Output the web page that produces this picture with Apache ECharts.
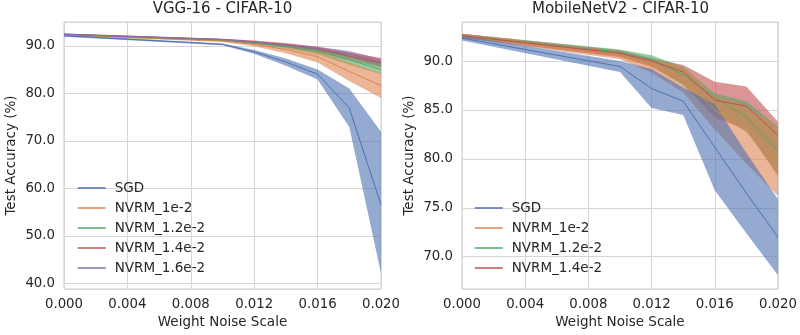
<!DOCTYPE html>
<html>
<head>
<meta charset="utf-8">
<script src="https://cdn.jsdelivr.net/npm/echarts@6/dist/echarts.min.js"></script>
<style>
  html, body { margin: 0; padding: 0; background: #ffffff; }
  #chart { width: 800px; height: 335px; }
</style>
</head>
<body>
<div id="chart"></div>
<script>
// Weight noise levels used for evaluation (shared by both panels)
const noiseScale = [0, 0.010, 0.012, 0.014, 0.016, 0.018, 0.020];

// ---- VGG-16 on CIFAR-10: mean test accuracy and band (lower / upper) ----
const vggSgdMean   = [92.1, 90.3, 88.7, 86.6, 84.0, 76.9, 56.5];
const vggSgdLow    = [91.9, 90.1, 88.3, 85.8, 82.9, 72.9, 42.1];
const vggSgdHigh   = [92.3, 90.5, 89.1, 87.3, 85.0, 81.0, 71.9];

const vggN10Mean   = [92.3, 91.0, 90.3, 89.2, 87.7, 84.6, 81.6];
const vggN10Low    = [92.1, 90.8, 89.9, 88.4, 86.5, 82.6, 79.0];
const vggN10High   = [92.5, 91.2, 90.6, 89.8, 88.8, 86.5, 84.2];

const vggN12Mean   = [92.4, 91.2, 90.6, 89.8, 88.8, 87.0, 85.0];
const vggN12Low    = [92.2, 91.0, 90.3, 89.4, 88.2, 86.0, 84.0];
const vggN12High   = [92.6, 91.4, 90.9, 90.2, 89.4, 88.0, 86.2];

const vggN14Mean   = [92.4, 91.3, 90.8, 90.2, 89.3, 87.8, 86.4];
const vggN14Low    = [92.2, 91.1, 90.5, 89.8, 88.8, 87.0, 85.5];
const vggN14High   = [92.6, 91.5, 91.1, 90.6, 89.8, 88.6, 87.4];

const vggN16Mean   = [92.4, 91.3, 90.8, 90.1, 89.4, 88.3, 86.5];
const vggN16Low    = [92.2, 91.1, 90.5, 89.7, 89.0, 87.6, 85.8];
const vggN16High   = [92.6, 91.5, 91.0, 90.4, 89.8, 88.9, 87.2];

// ---- MobileNetV2 on CIFAR-10 ----
const mbSgdMean    = [92.35, 89.45, 87.2, 85.9, 81.2, 76.5, 72.0];
const mbSgdLow     = [92.1, 88.9, 85.2, 84.5, 76.8, 72.4, 68.1];
const mbSgdHigh    = [92.6, 90.0, 89.2, 87.3, 85.6, 80.6, 75.9];

const mbN10Mean    = [92.6, 90.6, 89.6, 88.2, 85.0, 82.8, 79.6];
const mbN10Low     = [92.4, 90.2, 88.8, 86.8, 83.0, 79.5, 76.2];
const mbN10High    = [92.8, 91.0, 90.2, 89.4, 86.4, 85.4, 83.2];

const mbN12Mean    = [92.6, 90.9, 90.2, 88.6, 86.3, 84.3, 80.8];
const mbN12Low     = [92.4, 90.5, 89.6, 87.5, 84.6, 82.8, 78.5];
const mbN12High    = [92.8, 91.2, 90.6, 89.4, 86.7, 85.9, 83.3];

const mbN14Mean    = [92.6, 90.8, 90.0, 88.9, 86.0, 85.4, 82.4];
const mbN14Low     = [92.4, 90.4, 89.4, 87.6, 84.2, 83.0, 78.2];
const mbN14High    = [92.8, 91.1, 90.3, 89.6, 87.9, 87.4, 83.8];

// Labels
const panelTitles   = ['VGG-16 - CIFAR-10', 'MobileNetV2 - CIFAR-10'];
const xAxisTitle    = 'Weight Noise Scale';
const yAxisTitle    = 'Test Accuracy (%)';
const vggNames      = ['SGD', 'NVRM_1e-2', 'NVRM_1.2e-2', 'NVRM_1.4e-2', 'NVRM_1.6e-2'];
const mbNames       = ['SGD', 'NVRM_1e-2', 'NVRM_1.2e-2', 'NVRM_1.4e-2'];

// Style
const FONT = 'DejaVu Sans';
const TEXT = '#262626';
const GRID_LINE = '#d6d6d6';
const PALETTE = ['#4C72B0', '#DD8452', '#55A868', '#C44E52', '#8172B3'];
const BAND_OPACITY = 0.6;

const pairs = (ys) => noiseScale.map((x, i) => [x, ys[i]]);

// Shaded band between lower and upper curves, drawn as one polygon in axis coordinates
function bandSeries(gridIdx, key, color, lo, hi) {
  return {
    name: key + ' band', type: 'custom', xAxisIndex: gridIdx, yAxisIndex: gridIdx,
    data: noiseScale.map((x, i) => [x, lo[i], hi[i]]),
    encode: { x: 0, y: [1, 2] },
    silent: true, z: 1,
    renderItem: (params, api) => {
      if (params.dataIndex !== 0) return null;
      const pts = [];
      for (let i = 0; i < noiseScale.length; i++) pts.push(api.coord([noiseScale[i], hi[i]]));
      for (let i = noiseScale.length - 1; i >= 0; i--) pts.push(api.coord([noiseScale[i], lo[i]]));
      return {
        type: 'polygon',
        shape: { points: pts },
        style: { fill: color, opacity: BAND_OPACITY, stroke: null }
      };
    }
  };
}
function meanSeries(gridIdx, name, color, mean) {
  return {
    name: name, type: 'line', xAxisIndex: gridIdx, yAxisIndex: gridIdx,
    data: pairs(mean), symbol: 'none', silent: true,
    lineStyle: { color: color, width: 1 }, itemStyle: { color: color }, z: 3
  };
}

const vggModels = [
  [vggSgdMean, vggSgdLow, vggSgdHigh],
  [vggN10Mean, vggN10Low, vggN10High],
  [vggN12Mean, vggN12Low, vggN12High],
  [vggN14Mean, vggN14Low, vggN14High],
  [vggN16Mean, vggN16Low, vggN16High]
];
const mbModels = [
  [mbSgdMean, mbSgdLow, mbSgdHigh],
  [mbN10Mean, mbN10Low, mbN10High],
  [mbN12Mean, mbN12Low, mbN12High],
  [mbN14Mean, mbN14Low, mbN14High]
];

// Bands are layered from the last model up to SGD (SGD band on top), lines above all bands
const series = [];
[[vggModels, vggNames], [mbModels, mbNames]].forEach(([models, names], g) => {
  for (let i = models.length - 1; i >= 0; i--) {
    series.push(bandSeries(g, names[i], PALETTE[i], models[i][1], models[i][2]));
  }
  models.forEach((m, i) => series.push(meanSeries(g, names[i], PALETTE[i], m[0])));
});

const gridBox = [
  { left: 64, top: 22, width: 317, height: 267 },
  { left: 462, top: 22, width: 317, height: 267 }
];
const yRanges = [[38.8, 95], [66.7, 94.0]];

const axisText = { fontFamily: FONT, fontSize: 13.3, color: TEXT };

const option = {
  backgroundColor: '#ffffff',
  animation: false,
  title: panelTitles.map((t, i) => ({
    text: t,
    left: gridBox[i].left + gridBox[i].width / 2,
    top: 2,
    textAlign: 'center',
    padding: 0,
    textStyle: { fontFamily: FONT, fontSize: 15, fontWeight: 'normal', color: TEXT }
  })),
  grid: gridBox.map(b => Object.assign({
    show: true, borderColor: '#cfcfcf', borderWidth: 1, containLabel: false
  }, b)),
  xAxis: gridBox.map((b, i) => ({
    type: 'value', gridIndex: i, min: 0, max: 0.02, interval: 0.004,
    name: xAxisTitle, nameLocation: 'middle', nameGap: 26,
    nameTextStyle: { fontFamily: FONT, fontSize: 13.5, color: TEXT },
    axisLine: { show: false }, axisTick: { show: false },
    axisLabel: Object.assign({ margin: 9, formatter: v => v.toFixed(3) }, axisText),
    splitLine: { show: true, lineStyle: { color: GRID_LINE, width: 1 } }
  })),
  yAxis: gridBox.map((b, i) => ({
    type: 'value', gridIndex: i, min: yRanges[i][0], max: yRanges[i][1], splitNumber: 5,
    name: yAxisTitle, nameLocation: 'middle', nameGap: 46, nameRotate: 90,
    nameTextStyle: { fontFamily: FONT, fontSize: 13.5, color: TEXT },
    axisLine: { show: false }, axisTick: { show: false },
    axisLabel: Object.assign({
      margin: 9, showMinLabel: false, showMaxLabel: false,
      formatter: v => v.toFixed(1)
    }, axisText),
    splitLine: { show: true, lineStyle: { color: GRID_LINE, width: 1 } }
  })),
  legend: [
    { data: vggNames, left: 77, top: 181 },
    { data: mbNames, left: 474, top: 201 }
  ].map(l => Object.assign({
    orient: 'vertical', itemWidth: 28, itemHeight: 14, itemGap: 6, padding: 0,
    itemStyle: { opacity: 0 },
    lineStyle: { width: 1.5 },
    textStyle: { fontFamily: FONT, fontSize: 13.5, color: TEXT, padding: [0, 0, 0, 4] },
    selectedMode: false
  }, l)),
  series: series
};

const chart = echarts.init(document.getElementById('chart'), null, { renderer: 'canvas' });
chart.setOption(option);
</script>
</body>
</html>
